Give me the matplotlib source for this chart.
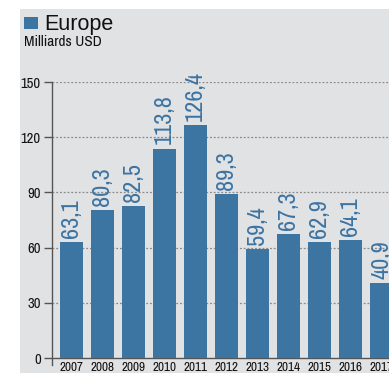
import matplotlib

matplotlib.use("Agg")
import matplotlib.pyplot as plt

years = ["2007", "2008", "2009", "2010", "2011", "2012", "2013", "2014", "2015", "2016", "2017"]
values = [63.1, 80.3, 82.5, 113.8, 126.4, 89.3, 59.4, 67.3, 62.9, 64.1, 40.9]
yticks = [0, 30, 60, 90, 120, 150]

BLUE = "#3c74a2"
BG = "#e1e2e4"
AXC = "#555555"
NARROW = ["Liberation Sans Narrow", "Archivo Narrow", "Liberation Sans"]


def fmt(v):
    return f"{v:.1f}".replace(".", ",")


def main():
    fig = plt.figure(figsize=(3.89, 3.73), dpi=100, facecolor="white")
    fig.patches.append(plt.Rectangle((20 / 389, 0), 1, 1 - 9 / 373, transform=fig.transFigure,
                                     facecolor=BG, edgecolor="none", zorder=-10))

    # titre
    fig.patches.append(plt.Rectangle((24 / 389, 1 - 29 / 373), 14 / 389, 12 / 373, transform=fig.transFigure,
                                     facecolor=BLUE, edgecolor="none", zorder=-5))
    fig.text(44 / 389, 1 - 30 / 373, "Europe", fontsize=15.5, family="Liberation Sans", color="#111", va="baseline")
    fig.text(24 / 389, 1 - 46 / 373, "Milliards USD", fontsize=11, family=NARROW, color="#111", va="baseline")

    ax = fig.add_axes([52 / 389, 8 / 373, 368 / 389, 283 / 373])
    ax.set_facecolor("none")
    x = list(range(len(years)))
    ax.bar(x, values, width=0.74, color=BLUE, zorder=3)
    for xi, v in zip(x, values):
        ax.annotate(fmt(v), (xi, v), xytext=(0, 3), textcoords="offset points", rotation=90,
                    ha="center", va="bottom", fontsize=17.5, family=NARROW, color=BLUE, zorder=4,
                    annotation_clip=False)
        ax.text(xi, -2.0, years[xi], ha="center", va="top", fontsize=9.5, family=NARROW, color="#111")

    ax.set_xlim(-0.63, -0.63 + 368 / 31)
    ax.set_ylim(-3.8, 150)
    ax.set_xticks([])
    ax.set_yticks(yticks)
    ax.set_yticklabels([str(t) for t in yticks], family=NARROW, fontsize=10.5, color="#111")
    ax.tick_params(axis="y", length=6, width=1, color=AXC, pad=2)
    for t in yticks[1:]:
        ax.axhline(t, color="#8a8a8a", lw=0.9, ls=(0, (1.5, 1.5)), zorder=1)
    ax.axhline(0, color=AXC, lw=1, zorder=2)
    for s in ["top", "right", "bottom"]:
        ax.spines[s].set_visible(False)
    ax.spines["left"].set_color(AXC)
    ax.spines["left"].set_linewidth(1)

    fig.savefig("out.png", dpi=100, facecolor="white")


if __name__ == "__main__":
    main()
